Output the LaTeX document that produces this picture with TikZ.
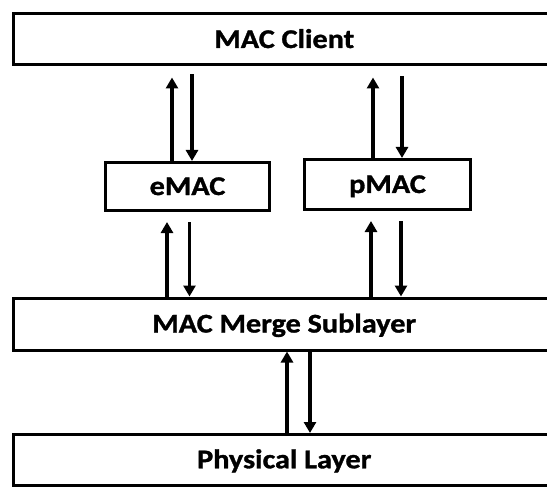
\documentclass[tikz,border=0pt]{standalone}
\usepackage{fontspec}
\setmainfont{Carlito}[FakeStretch=1.12,BoldFeatures={FakeBold=1.2}]
\usepackage{tikz}
\usetikzlibrary{arrows.meta}

\begin{document}
\begin{tikzpicture}[x=1pt,y=-1pt,
    layer/.style={draw=black,line width=3pt,inner sep=0pt,text height=17pt,text depth=0pt,
        font=\fontsize{27}{31}\selectfont\bfseries},
    flow/.style={line width=3.4pt,-{Triangle[width=12pt,length=11pt]}}]
\useasboundingbox (0,0) rectangle (547,487);
\clip (0,0) rectangle (547,487);
\begin{scope}

    \node[layer,minimum width=541.5pt,minimum height=51pt] (client) at (284.25,39.5) {MAC Client};
    \node[layer,minimum width=164pt,minimum height=48pt] (emac) at (187.5,186.5) {eMAC};
    \node[layer,minimum width=166pt,minimum height=50pt] (pmac) at (387.5,184.5) {pMAC};
    \node[layer,minimum width=541.5pt,minimum height=52pt] (merge) at (284.25,324) {MAC Merge Sublayer};
    \node[layer,minimum width=541.5pt,minimum height=50.5pt] (phy) at (284.25,459.75) {Physical Layer};

    \coordinate (eup) at (172,0);
    \coordinate (edn) at (192,0);
    \coordinate (pup) at (373,0);
    \coordinate (pdn) at (402,0);
    \draw[flow,shorten >=11pt] (eup |- emac.north) -- (eup |- client.south);
    \draw[flow,shorten <=8pt] (edn |- client.south) -- (edn |- emac.north);
    \draw[flow,shorten >=11pt] (pup |- pmac.north) -- (pup |- client.south);
    \draw[flow,shorten <=10pt] (pdn |- client.south) -- (pdn |- pmac.north);

    \coordinate (mup) at (167,0);
    \coordinate (mdn) at (189.5,0);
    \coordinate (qup) at (371,0);
    \coordinate (qdn) at (401,0);
    \draw[flow,shorten >=10pt] (mup |- merge.north) -- (mup |- emac.south);
    \draw[flow,shorten <=10pt] (mdn |- emac.south) -- (mdn |- merge.north);
    \draw[flow,shorten >=10pt] (qup |- merge.north) -- (qup |- pmac.south);
    \draw[flow,shorten <=10pt] (qdn |- pmac.south) -- (qdn |- merge.north);

    \coordinate (lup) at (287,0);
    \coordinate (ldn) at (310,0);
    \draw[flow] (lup |- phy.north) -- (lup |- merge.south);
    \draw[flow] (ldn |- merge.south) -- (ldn |- phy.north);

\end{scope}
\end{tikzpicture}
\end{document}
